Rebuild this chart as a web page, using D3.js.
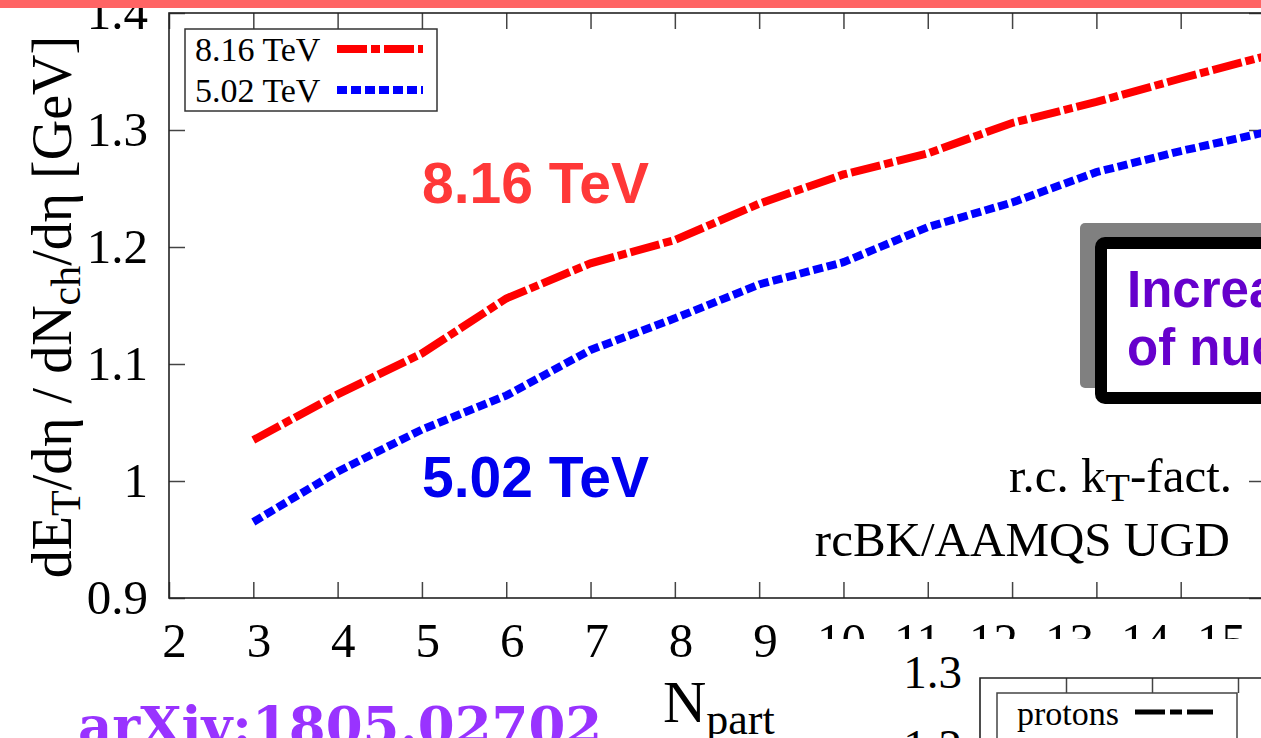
<!DOCTYPE html>
<html>
<head>
<meta charset="utf-8">
<script src="https://cdn.jsdelivr.net/npm/d3@7"></script>
<style>
	body { margin: 0; background: #fff; }
	svg { display: block; }
	.tick line { stroke: #444; stroke-width: 1.5; }
	.serif { font-family: "Liberation Serif", "DejaVu Serif", serif; fill: #000; }
</style>
</head>
<body>
<svg id="chart" width="1261" height="738"></svg>
<script>
	// Data
	var nPart = [3, 4, 5, 6, 7, 8, 9, 10, 11, 12, 13, 14, 15];
	var et816 = [1.035, 1.074, 1.109, 1.156, 1.186, 1.206, 1.237, 1.262, 1.280, 1.306, 1.324, 1.344, 1.363];
	var et502 = [0.965, 1.008, 1.044, 1.073, 1.112, 1.139, 1.168, 1.187, 1.217, 1.238, 1.264, 1.282, 1.298];
	var xTickValues = [2, 3, 4, 5, 6, 7, 8, 9, 10, 11, 12, 13, 14, 15];
	var yTickValues = [0.9, 1.0, 1.1, 1.2, 1.3, 1.4];
	var seriesNames = ['8.16 TeV', '5.02 TeV'];
	var insetXTicks = [3, 4, 5];
	var insetYTicks = [1.2, 1.3];

	var svg = d3.select('#chart');

	// Scales
	var x = d3.scaleLinear().domain([2, 15]).range([169, 1265]),
		y = d3.scaleLinear().domain([0.9, 1.4]).range([598, 13]),
		// tick labels of the picture are squeezed together past 9
		xLab = d3.scaleLinear().domain([2, 9, 15]).range([174, 765, 1221]);

	var fmt = function(d) { return String(+d.toFixed(1)); };

	svg.append('rect').attr('width', 1261).attr('height', 738).attr('fill', '#fff');

	// clip for curves
	svg.append('clipPath').attr('id', 'plotClip')
		.append('rect')
			.attr('x', x(2)).attr('y', y(1.4))
			.attr('width', x(15) - x(2)).attr('height', y(0.9) - y(1.4));

	// Axes (inward ticks on all four sides)
	svg.append('g').attr('transform', 'translate(0,' + y(0.9) + ')')
		.call(d3.axisBottom(x).tickValues(xTickValues).tickSize(-16).tickFormat(''));
	svg.append('g').attr('transform', 'translate(0,' + y(1.4) + ')')
		.call(d3.axisTop(x).tickValues(xTickValues).tickSize(-16).tickFormat(''));
	svg.append('g').attr('transform', 'translate(' + x(2) + ',0)')
		.call(d3.axisLeft(y).tickValues(yTickValues).tickSize(-16).tickPadding(21).tickFormat(fmt));
	svg.append('g').attr('transform', 'translate(' + x(15) + ',0)')
		.call(d3.axisRight(y).tickValues(yTickValues).tickSize(-16).tickFormat(''));
	var gxl = svg.append('g').attr('transform', 'translate(0,' + y(0.9) + ')')
		.call(d3.axisBottom(xLab).tickValues(xTickValues).tickSize(0).tickPadding(24).tickFormat(fmt));
	gxl.selectAll('line').remove();

	svg.selectAll('.domain').remove();
	svg.selectAll('.tick text')
		.attr('class', 'serif')
		.style('font-size', '49px')
		.attr('fill', '#000');

	// Frame
	svg.append('rect')
		.attr('x', x(2)).attr('y', y(1.4))
		.attr('width', x(15) - x(2)).attr('height', y(0.9) - y(1.4))
		.attr('fill', 'none').attr('stroke', '#222').attr('stroke-width', 1.6);

	// Curves
	var line = d3.line()
		.x(function(d) { return x(d[0]); })
		.y(function(d) { return y(d[1]); });

	var series = [
		{ name: seriesNames[0], values: d3.zip(nPart, et816), color: '#ff0000', dash: '30,4,9,4' },
		{ name: seriesNames[1], values: d3.zip(nPart, et502), color: '#0000ff', dash: '10,4' }
	];

	svg.append('g').attr('clip-path', 'url(#plotClip)')
		.selectAll('path')
		.data(series)
		.enter().append('path')
			.attr('d', function(d) { return line(d.values); })
			.attr('fill', 'none')
			.attr('stroke', function(d) { return d.color; })
			.attr('stroke-width', 8)
			.attr('stroke-dasharray', function(d) { return d.dash; });

	// Legend
	var lg = svg.append('g');
	lg.append('rect')
		.attr('x', 185).attr('y', 29).attr('width', 252).attr('height', 82)
		.attr('fill', '#fff').attr('stroke', '#333').attr('stroke-width', 1.5);
	var item = lg.selectAll('.item').data(series).enter().append('g')
		.attr('class', 'item')
		.attr('transform', function(d, i) { return 'translate(0,' + (49 + i * 41) + ')'; });
	item.append('text')
		.attr('class', 'serif')
		.attr('x', 195).attr('y', 12)
		.style('font-size', '34px')
		.text(function(d) { return d.name; });
	item.append('line')
		.attr('x1', 337).attr('x2', 423)
		.attr('stroke', function(d) { return d.color; })
		.attr('stroke-width', 8)
		.attr('stroke-dasharray', function(d) { return d.dash; });

	// Big labels on the curves
	svg.append('text')
		.attr('x', 422).attr('y', 203)
		.style('font-family', '"Liberation Sans", Arial, sans-serif')
		.style('font-weight', 'bold').style('font-size', '57px')
		.attr('fill', '#ff3838')
		.text('8.16 TeV');
	svg.append('text')
		.attr('x', 422).attr('y', 497)
		.style('font-family', '"Liberation Sans", Arial, sans-serif')
		.style('font-weight', 'bold').style('font-size', '57px')
		.attr('fill', '#0000ee')
		.text('5.02 TeV');

	// Model note
	var note1 = svg.append('text').attr('class', 'serif')
		.attr('x', 1232).attr('y', 492).attr('text-anchor', 'end')
		.style('font-size', '49px');
	note1.append('tspan').text('r.c. k');
	note1.append('tspan').attr('dy', 9).style('font-size', '40px').text('T');
	note1.append('tspan').attr('dy', -9).text('-fact.');
	svg.append('text').attr('class', 'serif')
		.attr('x', 1230).attr('y', 556).attr('text-anchor', 'end')
		.style('font-size', '49px')
		.text('rcBK/AAMQS UGD');

	// Y axis title
	var yt = svg.append('text').attr('class', 'serif')
		.attr('transform', 'translate(71,307) rotate(-90)')
		.attr('text-anchor', 'middle')
		.style('font-size', '56px');
	yt.append('tspan').text('dE');
	yt.append('tspan').attr('dy', 9).style('font-size', '42px').text('T');
	yt.append('tspan').attr('dy', -9).text('/dη / dN');
	yt.append('tspan').attr('dy', 9).style('font-size', '42px').text('ch');
	yt.append('tspan').attr('dy', -9).text('/dη [GeV]');

	// X axis title
	var xt = svg.append('text').attr('class', 'serif')
		.attr('x', 663).attr('y', 722)
		.style('font-size', '60px');
	xt.append('tspan').text('N');
	xt.append('tspan').attr('dy', 12).style('font-size', '44px').text('part');

	// Callout box on the right
	svg.append('rect')
		.attr('x', 1080).attr('y', 223).attr('width', 260).attr('height', 165).attr('rx', 5)
		.attr('fill', '#808080');
	svg.append('rect')
		.attr('x', 1101).attr('y', 243).attr('width', 240).attr('height', 155).attr('rx', 4)
		.attr('fill', '#fff').attr('stroke', '#000').attr('stroke-width', 12);
	var callout = svg.append('text')
		.style('font-family', '"Liberation Sans", Arial, sans-serif')
		.style('font-weight', 'bold').style('font-size', '51px')
		.attr('fill', '#6600cc');
	callout.append('tspan').attr('x', 1127).attr('y', 307).text('Increasing');
	callout.append('tspan').attr('x', 1127).attr('y', 365).text('of nucleus');

	// Inset figure at the bottom right (covers the lower x labels)
	var insetTop = 678;
	var xIn = d3.scaleLinear().domain([2, 3]).range([980, 1066]),
		yIn = d3.scaleLinear().domain([1.2, 1.3]).range([746, 672]);
	var inset = svg.append('g');
	inset.append('rect')
		.attr('x', 800).attr('y', 639).attr('width', 461).attr('height', 99)
		.attr('fill', '#fff');
	inset.append('g').attr('transform', 'translate(0,' + insetTop + ')')
		.call(d3.axisTop(xIn).tickValues(insetXTicks).tickSize(-15).tickFormat(''));
	inset.append('g').attr('transform', 'translate(' + xIn(2) + ',0)')
		.call(d3.axisLeft(yIn).tickValues(insetYTicks).tickSize(0).tickPadding(18).tickFormat(fmt));
	inset.selectAll('.domain').remove();
	inset.selectAll('.tick text')
		.attr('class', 'serif').attr('fill', '#000')
		.style('font-size', '47px');
	inset.append('path')
		.attr('d', 'M' + xIn(2) + ',738V' + insetTop + 'H1261')
		.attr('fill', 'none').attr('stroke', '#222').attr('stroke-width', 1.6);
	inset.append('rect')
		.attr('x', 997).attr('y', 693).attr('width', 240).attr('height', 80)
		.attr('fill', '#fff').attr('stroke', '#444').attr('stroke-width', 1.5);
	inset.append('text').attr('class', 'serif')
		.attr('x', 1017).attr('y', 725)
		.style('font-size', '34px')
		.text('protons');
	inset.append('line')
		.attr('x1', 1135).attr('x2', 1213).attr('y1', 712).attr('y2', 712)
		.attr('stroke', '#000').attr('stroke-width', 5)
		.attr('stroke-dasharray', '30,5,12,5');

	// arXiv reference
	svg.append('text')
		.attr('x', 78).attr('y', 744)
		.style('font-family', '"DejaVu Serif", serif')
		.style('font-weight', 'bold').style('font-size', '53px')
		.attr('fill', '#9933ff')
		.text('arXiv:1805.02702');

	// slide header bar
	svg.append('rect').attr('width', 1261).attr('height', 8).attr('fill', '#ff6464');
</script>
</body>
</html>
